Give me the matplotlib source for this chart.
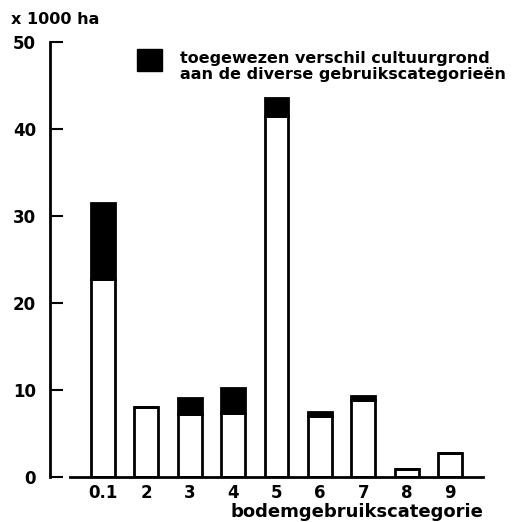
import matplotlib.pyplot as plt
from matplotlib.patches import Rectangle

# Data (x 1000 ha)
categories = ['0.1', '2', '3', '4', '5', '6', '7', '8', '9']
basis = [22.8, 8.1, 7.3, 7.4, 41.5, 7.0, 8.9, 0.9, 2.8]
toegewezen = [8.7, 0.0, 1.8, 2.8, 2.0, 0.5, 0.4, 0.0, 0.0]

plt.rcParams['font.family'] = 'DejaVu Sans'
plt.rcParams['font.weight'] = 'bold'

fig = plt.figure(figsize=(5.21, 5.22), dpi=100)
ax = fig.add_axes([0.096, 0.086, 0.831, 0.834])

x = range(len(categories))
ax.bar(x, basis, width=0.55, color='white', edgecolor='black', linewidth=2)
ax.bar(x, toegewezen, width=0.55, bottom=basis, color='black', edgecolor='black', linewidth=2)

ax.set_xlim(-1.21, 8.75)
ax.set_ylim(0, 50)

# assen
for s in ['top', 'right']:
    ax.spines[s].set_visible(False)
ax.spines['left'].set_linewidth(2)
ax.spines['bottom'].set_linewidth(2)
ax.spines['bottom'].set_bounds(-0.75, 8.75)

ax.set_yticks([0, 10, 20, 30, 40, 50])
ax.tick_params(axis='y', direction='in', length=9, width=1.5, labelsize=12, pad=10)
ax.set_xticks(list(x))
ax.set_xticklabels(categories)
ax.tick_params(axis='x', length=0, labelsize=12, pad=5)

ax.set_xlabel('bodemgebruikscategorie', fontsize=13, fontweight='bold', loc='right', labelpad=1)
fig.text(0.022, 0.963, 'x 1000 ha', fontsize=11.5, fontweight='bold', va='center')

# legenda
fig.patches.append(Rectangle((0.263, 0.864), 0.048, 0.042, transform=fig.transFigure,
                             facecolor='black', edgecolor='black'))
fig.text(0.345, 0.872, 'toegewezen verschil cultuurgrond\naan de diverse gebruikscategorieën',
         fontsize=11.5, fontweight='bold', va='center', linespacing=1.1)

fig.savefig('out.png', dpi=100)
